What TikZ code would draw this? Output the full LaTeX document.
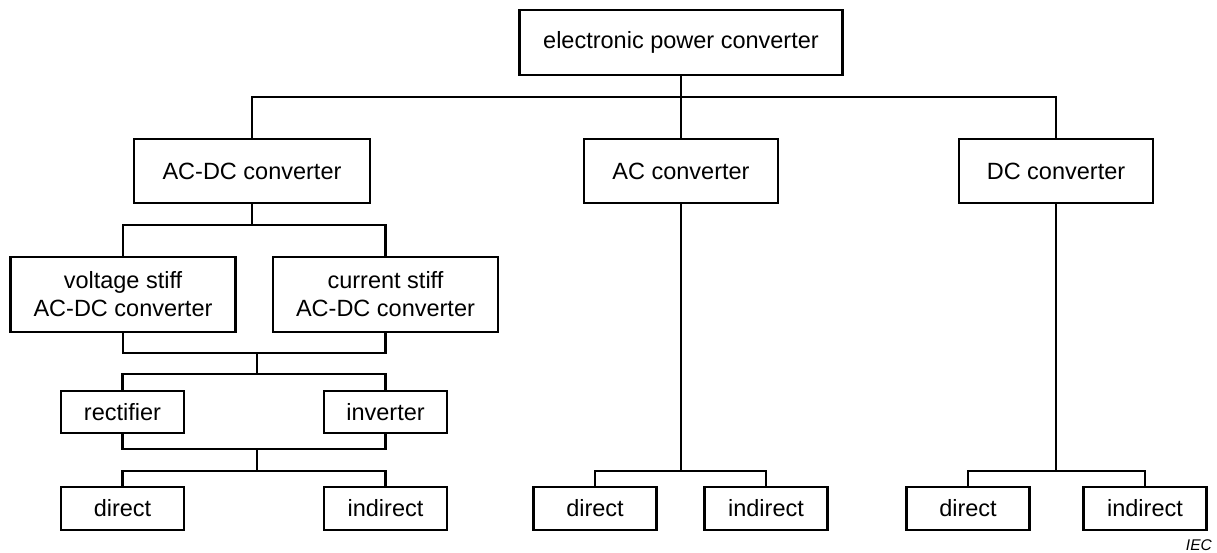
\documentclass[tikz,border=0pt]{standalone}
\usepackage{fontspec}
\setmainfont{Liberation Sans}
\usetikzlibrary{positioning}

\tikzset{
    box/.style={draw, line width=2.8pt, align=center, inner sep=0pt,
                font=\fontsize{23.5}{28}\selectfont},
    main/.style={box, minimum height=64pt},
    stiff/.style={box, minimum width=225pt, minimum height=75pt},
    leaf/.style={box, minimum width=123pt, minimum height=42pt},
    wire/.style={line width=2.5pt}
}

\begin{document}
\begin{tikzpicture}[x=1pt, y=-1pt]
    \useasboundingbox (0,0) rectangle (1217,553);

    \node[main, minimum width=323pt, minimum height=65pt] (epc) at (681,42.5) {electronic power converter};
    \node[main, minimum width=236pt] (acdc) at (252,171) {AC-DC converter};
    \node[main, minimum width=194pt] (ac) at (681,171) {AC converter};
    \node[main, minimum width=194pt] (dc) at (1056,171) {DC converter};

    \node[stiff] (vs) at (123,294.5) {voltage stiff\\AC-DC converter};
    \node[stiff] (cs) at (385.5,294.5) {current stiff\\AC-DC converter};
    \node[leaf] (rect) at (122.5,412) {rectifier};
    \node[leaf] (inv) at (385.5,412) {inverter};
    \node[leaf, minimum height=43pt] (dir) at (122.5,508.5) {direct};
    \node[leaf, minimum height=43pt] (indir) at (385.5,508.5) {indirect};

    \node[leaf, minimum height=43pt] (acdir) at (595,508.5) {direct};
    \node[leaf, minimum height=43pt] (acindir) at (766,508.5) {indirect};
    \node[leaf, minimum height=43pt] (dcdir) at (968,508.5) {direct};
    \node[leaf, minimum height=43pt] (dcindir) at (1145,508.5) {indirect};

    \node[font=\itshape\fontsize{15.5}{17}\selectfont, anchor=south east, inner sep=0pt] (iec) at (1212,551) {IEC};

    % branch points
    \coordinate (top) at (681,97);
    \coordinate (lv1) at (252,225);
    \coordinate (lv2a) at (257,353);
    \coordinate (lv2b) at (257,374);
    \coordinate (lv3a) at (257,449);
    \coordinate (lv3b) at (257,471);
    \coordinate (acb) at (681,471);
    \coordinate (dcb) at (1056,471);

    \draw[wire] (epc) -- (ac);
    \draw[wire] (acdc.north) |- (top) -| (dc.north);

    \draw[wire] (acdc) -- (lv1);
    \draw[wire] (vs.north) |- (lv1) -| (cs.north);
    \draw[wire] (vs.south) |- (lv2a) -| (cs.south);
    \draw[wire] (lv2a) -- (lv2b);
    \draw[wire] (rect.north) |- (lv2b) -| (inv.north);
    \draw[wire] (rect.south) |- (lv3a) -| (inv.south);
    \draw[wire] (lv3a) -- (lv3b);
    \draw[wire] (dir.north) |- (lv3b) -| (indir.north);

    \draw[wire] (ac) -- (acb);
    \draw[wire] (acdir.north) |- (acb) -| (acindir.north);
    \draw[wire] (dc) -- (dcb);
    \draw[wire] (dcdir.north) |- (dcb) -| (dcindir.north);
\end{tikzpicture}
\end{document}
